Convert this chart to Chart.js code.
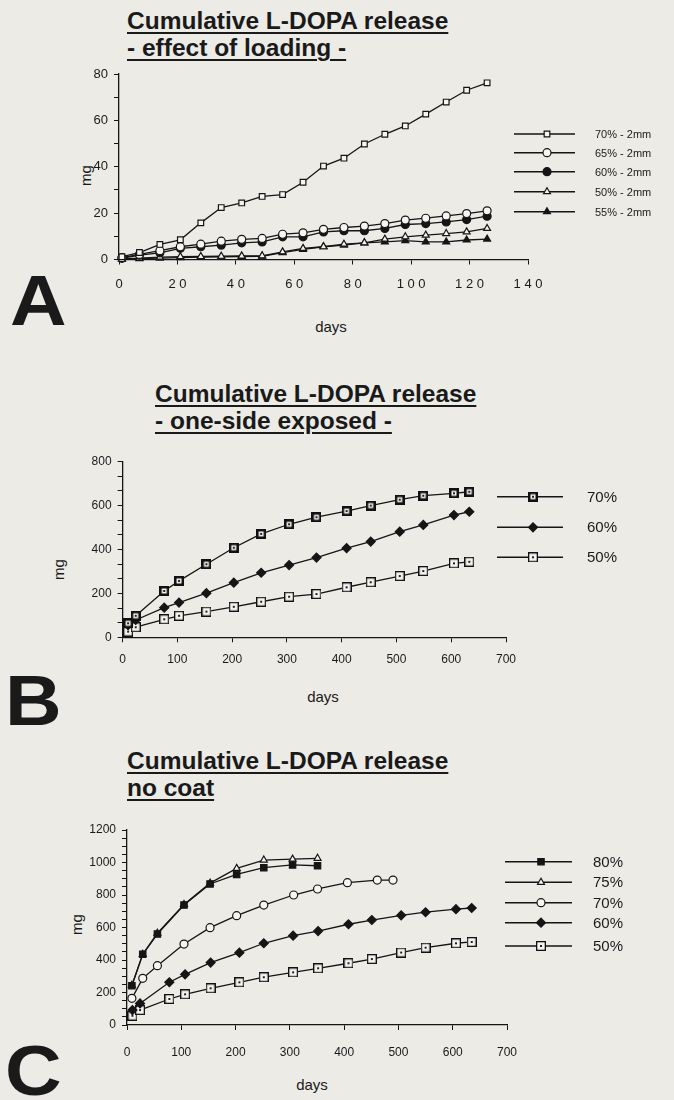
<!DOCTYPE html>
<html>
<head>
<meta charset="utf-8">
<script src="https://cdn.jsdelivr.net/npm/chart.js@4.4.1/dist/chart.umd.min.js"></script>
<style>
  body { margin: 0; background: #ecebe6; }
  #page { position: relative; width: 674px; height: 1100px; overflow: hidden; font-family: "Liberation Sans", Arial, sans-serif; color: #1a1a1a; }
  canvas { position: absolute; left: 0; }
  .title { position: absolute; font-weight: bold; font-size: 24.5px; line-height: 27px; text-decoration: underline; text-decoration-thickness: 2px; text-underline-offset: 3px; white-space: nowrap; }
  .panel { position: absolute; font-weight: bold; font-size: 70px; line-height: 70px; transform: scaleX(1.12); transform-origin: left; }
  .ylab { position: absolute; font-size: 15px; transform: rotate(-90deg); transform-origin: center; }
  .xlab { position: absolute; font-size: 15px; transform: translateX(-50%); }
</style>
</head>
<body>
<div id="page">
  <div class="title" style="left:127px; top:7px;">Cumulative L-DOPA release<br>- effect of loading -</div>
  <div class="title" style="left:155px; top:380px;">Cumulative L-DOPA release<br>- one-side exposed -</div>
  <div class="title" style="left:127px; top:747px;">Cumulative L-DOPA release<br>no coat</div>

  <div class="panel" style="left:10px; top:266px;">A</div>
  <div class="panel" style="left:5px; top:666px;">B</div>
  <div class="panel" style="left:5px; top:1036px;">C</div>

  <div class="ylab" style="left:75px; top:167px;">mg</div>
  <div class="ylab" style="left:48px; top:561px;">mg</div>
  <div class="ylab" style="left:66px; top:916px;">mg</div>

  <div class="xlab" style="left:331px; top:318px;">days</div>
  <div class="xlab" style="left:323px; top:688px;">days</div>
  <div class="xlab" style="left:312px; top:1076px;">days</div>

  <canvas id="chartA" width="674" height="230" style="top:60px;"></canvas>
  <canvas id="chartB" width="674" height="230" style="top:440px;"></canvas>
  <canvas id="chartC" width="674" height="255" style="top:815px;"></canvas>
</div>

<script>
// ---- data ----
// A: effect of loading (days, mg)
const daysA = [1, 7, 14, 21, 28, 35, 42, 49, 56, 63, 70, 77, 84, 91, 98, 105, 112, 119, 126];
const a70 = [1.2, 3.0, 6.5, 8.5, 15.8, 22.4, 24.4, 27.2, 28.0, 33.3, 40.3, 43.7, 49.8, 54.0, 57.6, 62.7, 67.9, 73.0, 76.2];
const a65 = [0.8, 2.2, 3.8, 5.5, 6.6, 7.9, 8.7, 9.1, 10.9, 11.5, 13.0, 13.8, 14.4, 15.5, 17.0, 17.8, 18.8, 19.8, 21.0];
const a60 = [0.5, 1.9, 2.9, 4.8, 5.5, 6.2, 7.2, 7.6, 9.8, 9.8, 11.9, 12.4, 12.4, 13.4, 15.1, 15.5, 16.2, 17.2, 18.7];
const a50 = [0.3, 0.6, 1.0, 1.2, 1.3, 1.4, 1.5, 1.6, 3.3, 4.8, 5.5, 6.6, 7.2, 8.8, 9.8, 10.5, 11.2, 11.9, 13.4];
const a55 = [0.2, 0.4, 0.6, 0.8, 1.0, 1.1, 1.3, 1.4, 3.0, 4.4, 5.5, 6.2, 7.2, 7.6, 8.1, 7.6, 7.6, 8.4, 8.8];
const labelsA = ['70% - 2mm', '65% - 2mm', '60% - 2mm', '50% - 2mm', '55% - 2mm'];

// B: one-side exposed
const daysB = [10, 24, 76, 103, 153, 203, 253, 304, 354, 409, 453, 506, 549, 605, 633];
const b70 = [64, 98, 211, 257, 333, 408, 471, 515, 547, 575, 600, 627, 645, 656, 663];
const b60 = [55, 79, 135, 158, 201, 249, 294, 329, 363, 406, 436, 481, 512, 557, 572];
const b50 = [26, 46, 82, 98, 117, 139, 162, 185, 197, 228, 251, 279, 302, 337, 344];
const labelsB = ['70%', '60%', '50%'];

// C: no coat
const daysC80 = [9, 29, 56, 105, 153, 202, 252, 305, 351];
const c80 = [242, 435, 560, 738, 868, 927, 968, 985, 980];
const c75 = [245, 435, 565, 742, 873, 964, 1015, 1021, 1026];
const daysC70 = [9, 29, 56, 105, 153, 202, 252, 307, 351, 406, 461, 490];
const c70 = [164, 287, 365, 498, 599, 673, 738, 800, 837, 876, 892, 892];
const daysC60 = [10, 24, 78, 107, 154, 207, 252, 306, 352, 408, 451, 505, 550, 606, 635];
const c60 = [92, 133, 263, 312, 384, 445, 503, 550, 578, 620, 646, 675, 694, 713, 720];
const c50 = [57, 92, 160, 189, 226, 263, 294, 324, 349, 380, 406, 446, 476, 503, 511];
const labelsC = ['80%', '75%', '70%', '60%', '50%'];

// ---- marker images ----
function boxMarker(border, dot) {
    const c = document.createElement('canvas');
    c.width = 10; c.height = 10;
    const g = c.getContext('2d');
    g.fillStyle = '#111';
    g.fillRect(0, 0, 10, 10);
    g.fillStyle = '#f4f3ef';
    g.fillRect(border, border, 10 - 2 * border, 10 - 2 * border);
    g.fillStyle = '#222';
    g.fillRect(5 - dot / 2, 5 - dot / 2, dot, dot);
    return c;
}
const boldBox = boxMarker(2.5, 2);
const dotBox = boxMarker(1.3, 2);

const INK = '#151515';
const PAPER = '#f6f5f1';

function series(label, xs, ys, style, fill, radius) {
    return {
        label: label,
        data: xs.map((x, i) => ({ x: x, y: ys[i] })),
        borderColor: INK,
        borderWidth: 1.3,
        tension: 0,
        pointStyle: style,
        pointRadius: radius || 4,
        pointBackgroundColor: fill,
        pointBorderColor: INK,
        pointBorderWidth: 1.2,
        clip: false
    };
}

// legend drawn at the right side: line - marker - line, then text
const sideLegend = {
    id: 'sideLegend',
    afterDraw(chart, args, opts) {
        const ctx = chart.ctx;
        ctx.save();
        chart.data.datasets.forEach((ds, i) => {
            const y = opts.rows[i];
            ctx.strokeStyle = INK;
            ctx.lineWidth = 1.5;
            ctx.beginPath();
            ctx.moveTo(opts.x1, y);
            ctx.lineTo(opts.x2, y);
            ctx.stroke();
            ctx.fillStyle = ds.pointBackgroundColor;
            ctx.strokeStyle = INK;
            ctx.lineWidth = 1.2;
            Chart.helpers.drawPoint(ctx, {
                pointStyle: ds.pointStyle,
                radius: ds.pointRadius,
                borderWidth: 1.2,
                rotation: 0
            }, opts.xm, y);
            ctx.fillStyle = '#1a1a1a';
            ctx.font = opts.font;
            ctx.textBaseline = 'middle';
            ctx.textAlign = 'left';
            ctx.fillText(ds.label, opts.xt, y + 1);
        });
        ctx.restore();
    }
};

function axes(opt) {
    const tickGrid = { display: true, drawOnChartArea: false, drawTicks: true, tickLength: 5, color: INK, lineWidth: 1 };
    return {
        x: {
            type: 'linear', min: 0, max: opt.xmax,
            ticks: { stepSize: opt.xstep, color: '#1a1a1a', padding: opt.xpad, maxRotation: 0, autoSkip: false,
                     font: { family: 'Liberation Sans', size: opt.fs }, callback: opt.xcb || (v => v) },
            grid: tickGrid,
            border: { display: true, color: INK, width: 1.3 },
            afterFit(s) { s.height = opt.xh; }
        },
        y: {
            type: 'linear', min: 0, max: opt.ymax,
            ticks: { stepSize: opt.ystep, color: '#1a1a1a', padding: 6, autoSkip: false,
                     font: { family: 'Liberation Sans', size: opt.fs },
                     callback: v => {
                         const k = v / opt.ymajor;
                         return Math.abs(k - Math.round(k)) < 1e-6 ? Math.round(v) : '';
                     } },
            grid: tickGrid,
            border: { display: true, color: INK, width: 1.3 },
            afterFit(s) { s.width = opt.yw; }
        }
    };
}

function baseOptions(opt, pad, legend) {
    return {
        responsive: false,
        animation: false,
        devicePixelRatio: 1,
        layout: { padding: pad },
        scales: axes(opt),
        plugins: { legend: { display: false }, tooltip: { enabled: false }, sideLegend: legend }
    };
}

// ---- A ----
new Chart(document.getElementById('chartA'), {
    type: 'line',
    data: {
        datasets: [
            series(labelsA[0], daysA, a70, 'rect', PAPER),
            series(labelsA[1], daysA, a65, 'circle', PAPER),
            series(labelsA[2], daysA, a60, 'circle', INK),
            series(labelsA[3], daysA, a50, 'triangle', PAPER),
            series(labelsA[4], daysA, a55, 'triangle', INK)
        ]
    },
    options: baseOptions(
        { xmax: 140, xstep: 20, xpad: 12, xh: 30.5, ymax: 80, ystep: 10, ymajor: 20, yw: 119, fs: 13,
          xcb: v => String(v).split('').join(' ') },
        { left: 0, top: 14, right: 146, bottom: 0 },
        { x1: 514, x2: 575, xm: 547, xt: 595, rows: [74, 92.7, 111.7, 131.7, 151.7], font: '11px "Liberation Sans"' }
    ),
    plugins: [sideLegend]
});

// ---- B ----
new Chart(document.getElementById('chartB'), {
    type: 'line',
    data: {
        datasets: [
            series(labelsB[0], daysB, b70, boldBox, PAPER),
            series(labelsB[1], daysB, b60, 'rectRot', INK, 4.5),
            series(labelsB[2], daysB, b50, dotBox, PAPER)
        ]
    },
    options: baseOptions(
        { xmax: 700, xstep: 100, xpad: 10, xh: 32.7, ymax: 800, ystep: 200 / 3, ymajor: 200, yw: 122.6, fs: 12 },
        { left: 0, top: 21.7, right: 168, bottom: 0 },
        { x1: 497, x2: 563, xm: 533, xt: 587, rows: [56.7, 87.3, 117.3], font: '15px "Liberation Sans"' }
    ),
    plugins: [sideLegend]
});

// ---- C ----
new Chart(document.getElementById('chartC'), {
    type: 'line',
    data: {
        datasets: [
            series(labelsC[0], daysC80, c80, 'rect', INK, 4.5),
            series(labelsC[1], daysC80, c75, 'triangle', PAPER),
            series(labelsC[2], daysC70, c70, 'circle', PAPER),
            series(labelsC[3], daysC60, c60, 'rectRot', INK, 4.5),
            series(labelsC[4], daysC60, c50, dotBox, PAPER)
        ]
    },
    options: baseOptions(
        { xmax: 700, xstep: 100, xpad: 15, xh: 45, ymax: 1200, ystep: 50, ymajor: 200, yw: 127, fs: 12 },
        { left: 0, top: 15, right: 167, bottom: 0 },
        { x1: 505, x2: 572, xm: 541, xt: 593, rows: [46.7, 67.3, 87.7, 107.7, 131], font: '15px "Liberation Sans"' }
    ),
    plugins: [sideLegend]
});
</script>
</body>
</html>
